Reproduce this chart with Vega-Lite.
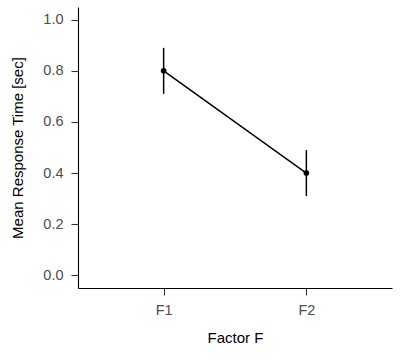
{
  "$schema": "https://vega.github.io/schema/vega-lite/v6.json",
  "width": 314,
  "height": 281,
  "autosize": {"type": "none"},
  "padding": {"left": 78, "top": 7, "right": 8, "bottom": 72},
  "background": "white",
  "data": {
    "values": [
      {"factor": "F1", "mean": 0.8, "lower": 0.71, "upper": 0.89},
      {"factor": "F2", "mean": 0.4, "lower": 0.31, "upper": 0.49}
    ]
  },
  "config": {
    "view": {"stroke": null},
    "font": "Liberation Sans",
    "axis": {
      "grid": false,
      "domainColor": "#000000",
      "domainWidth": 1.1,
      "tickColor": "#333333",
      "tickWidth": 1.1,
      "tickSize": 7,
      "labelColor": "#4d4d4d",
      "labelFontSize": 14.5,
      "titleColor": "#000000",
      "titleFontSize": 15,
      "titleFontWeight": "normal",
      "labelFont": "Liberation Sans",
      "titleFont": "Liberation Sans"
    }
  },
  "encoding": {
    "x": {
      "field": "factor",
      "type": "nominal",
      "scale": {"type": "point", "padding": 0.6},
      "axis": {"title": "Factor F", "labelAngle": 0, "labelPadding": 8, "titlePadding": 14}
    }
  },
  "layer": [
    {
      "mark": {"type": "rule", "color": "#000000", "strokeWidth": 1.5},
      "encoding": {
        "y": {"field": "lower", "type": "quantitative"},
        "y2": {"field": "upper"}
      }
    },
    {
      "mark": {"type": "line", "color": "#000000", "strokeWidth": 1.5},
      "encoding": {
        "y": {
          "field": "mean",
          "type": "quantitative",
          "scale": {"domain": [-0.05, 1.05], "nice": false, "zero": false},
          "axis": {"title": "Mean Response Time [sec]", "values": [0, 0.2, 0.4, 0.6, 0.8, 1.0], "format": ".1f", "labelPadding": 8, "titlePadding": 17}
        }
      }
    },
    {
      "mark": {"type": "point", "filled": true, "color": "#000000", "opacity": 1, "size": 32},
      "encoding": {
        "y": {"field": "mean", "type": "quantitative"}
      }
    }
  ]
}
